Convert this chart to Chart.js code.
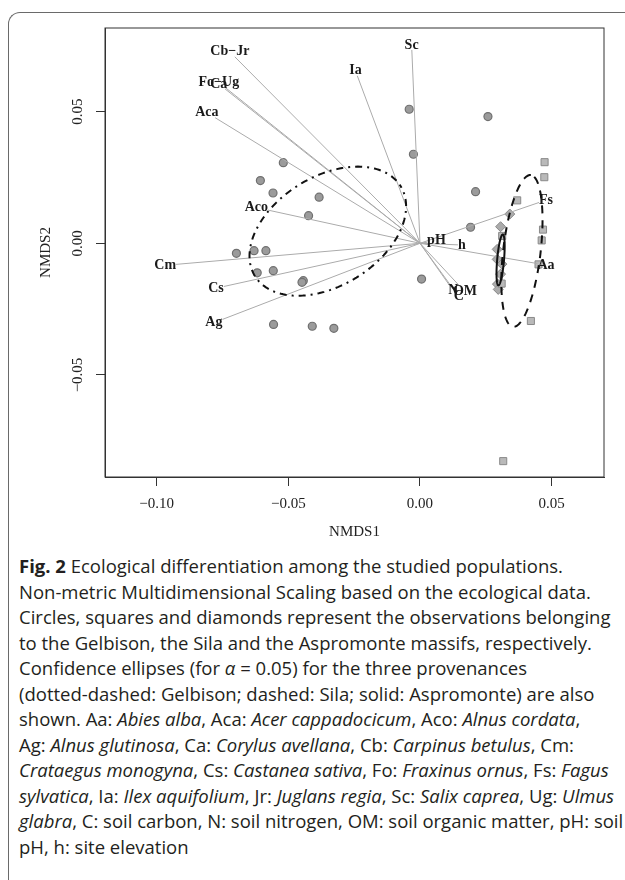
<!DOCTYPE html>
<html>

<head>
  <meta charset="UTF-8" />
  <title>NMDS of ecological data</title>
  <script src="https://cdn.jsdelivr.net/npm/chart.js@4.4.1/dist/chart.umd.min.js"></script>
  <style>
    body { margin: 0; width: 625px; height: 880px; overflow: hidden; background: #fff; position: relative; }
    #frame { position: absolute; left: 8px; top: 12px; width: 800px; height: 1000px;
      border-top: 1.5px solid #6a6a6a; border-left: 1.5px solid #6a6a6a; border-top-left-radius: 12px; }
    #chart { position: absolute; left: 0; top: 0; }
    #caption { position: absolute; left: 19px; top: 553px; font: 18.5px "Open Sans", sans-serif;
      line-height: 25.5px; color: #231f20; white-space: nowrap; }
  </style>
</head>

<body>
  <div id="frame"></div>
  <canvas id="chart" width="625" height="545"></canvas>
  <div id="caption">
    <div><b>Fig. 2</b> Ecological differentiation among the studied populations.</div>
    <div>Non-metric Multidimensional Scaling based on the ecological data.</div>
    <div>Circles, squares and diamonds represent the observations belonging</div>
    <div>to the Gelbison, the Sila and the Aspromonte massifs, respectively.</div>
    <div>Confidence ellipses (for <i>α</i> = 0.05) for the three provenances</div>
    <div>(dotted-dashed: Gelbison; dashed: Sila; solid: Aspromonte) are also</div>
    <div>shown. Aa: <i>Abies alba</i>, Aca: <i>Acer cappadocicum</i>, Aco: <i>Alnus cordata</i>,</div>
    <div>Ag: <i>Alnus glutinosa</i>, Ca: <i>Corylus avellana</i>, Cb: <i>Carpinus betulus</i>, Cm:</div>
    <div><i>Crataegus monogyna</i>, Cs: <i>Castanea sativa</i>, Fo: <i>Fraxinus ornus</i>, Fs: <i>Fagus</i></div>
    <div><i>sylvatica</i>, Ia: <i>Ilex aquifolium</i>, Jr: <i>Juglans regia</i>, Sc: <i>Salix caprea</i>, Ug: <i>Ulmus</i></div>
    <div><i>glabra</i>, C: soil carbon, N: soil nitrogen, OM: soil organic matter, pH: soil</div>
    <div>pH, h: site elevation</div>
  </div>
  <script>
    // observations (NMDS1, NMDS2)
    const gelX = [-0.0041, 0.0258, -0.0025, -0.0519, -0.0606, -0.0558, -0.0383, 0.0211, -0.0423, 0.0192, -0.0697,
      -0.0630, -0.0585, -0.0618, -0.0557, -0.0443, -0.0448, 0.0006, -0.0556, -0.0409, -0.0327];
    const gelY = [0.0509, 0.0481, 0.0338, 0.0306, 0.0238, 0.0191, 0.0175, 0.0196, 0.0105, 0.0061, -0.0038,
      -0.0028, -0.0028, -0.0112, -0.0104, -0.0142, -0.0148, -0.0136, -0.0308, -0.0315, -0.0323];
    const silaX = [0.0473, 0.0472, 0.0369, 0.0467, 0.0462, 0.0450, 0.0312, 0.0310, 0.0421, 0.0316];
    const silaY = [0.0308, 0.0251, 0.0163, 0.0052, 0.0011, -0.0080, 0.0028, -0.0153, -0.0295, -0.0827];
    const aspX = [0.0341, 0.0306, 0.0293, 0.0293, 0.0311, 0.0306, 0.0294, 0.0297];
    const aspY = [0.0111, 0.0063, -0.0023, -0.0061, -0.0079, -0.0117, -0.0155, -0.0175];

    // fitted vectors (arrow heads)
    const vecNames = ['Cb\u2212Jr', 'Fo\u2212Ug', 'Ca', 'Aca', 'Aco', 'Cm', 'Cs', 'Ag', 'Sc', 'Ia',
      'pH', 'h', 'Fs', 'Aa', 'N', 'OM', 'C'];
    const vecX = [-0.0703, -0.0740, -0.0740, -0.0778, -0.0577, -0.0926, -0.0745, -0.0750, -0.0031, -0.0238,
      0.0027, 0.0144, 0.0452, 0.0446, 0.0113, 0.0153, 0.0134];
    const vecY = [0.0708, 0.0592, 0.0586, 0.0477, 0.0126, -0.0080, -0.0164, -0.0289, 0.0734, 0.0636,
      0.0004, -0.0006, 0.0155, -0.0077, -0.0161, -0.0165, -0.0184];

    // confidence ellipses: centre, semi-axes, angle of major axis (degrees)
    const ellNames = ['Gelbison', 'Sila', 'Aspromonte'];
    const ellCX = [-0.0350, 0.0387, 0.0306];
    const ellCY = [0.0046, -0.0029, -0.0063];
    const ellA = [0.0325, 0.0290, 0.0097];
    const ellB = [0.0207, 0.0071, 0.0013];
    const ellAngle = [31.6, 83.3, 85];

    const xTickValues = [-0.10, -0.05, 0.00, 0.05];
    const xTickLabels = ['\u22120.10', '\u22120.05', '0.00', '0.05'];
    const yTickValues = [-0.05, 0.00, 0.05];
    const yTickLabels = ['\u22120.05', '0.00', '0.05'];

    const serif = 'Liberation Serif';
    const ellDash = [[2, 5, 7, 5], [8, 7], []];

    const toPts = (xs, ys) => xs.map((v, i) => ({ x: v, y: ys[i] }));

    const overlay = {
      id: 'overlay',
      afterDatasetsDraw(chart) {
        const { ctx, chartArea: a, scales: { x, y } } = chart;
        const ox = x.getPixelForValue(0), oy = y.getPixelForValue(0);
        ctx.save();
        ctx.beginPath();
        ctx.rect(a.left, a.top, a.right - a.left, a.bottom - a.top);
        ctx.clip();

        // arrows
        ctx.strokeStyle = '#ababab';
        ctx.lineWidth = 1;
        vecNames.forEach((n, i) => {
          ctx.beginPath();
          ctx.moveTo(ox, oy);
          ctx.lineTo(x.getPixelForValue(vecX[i]), y.getPixelForValue(vecY[i]));
          ctx.stroke();
        });

        // labels just beyond the arrow heads
        ctx.font = 'bold 14px "' + serif + '"';
        ctx.fillStyle = '#1a1a1a';
        ctx.textAlign = 'center';
        ctx.textBaseline = 'middle';
        vecNames.forEach((n, i) => {
          const tx = x.getPixelForValue(vecX[i]), ty = y.getPixelForValue(vecY[i]);
          const dx = tx - ox, dy = ty - oy, len = Math.hypot(dx, dy) || 1;
          const ux = dx / len, uy = dy / len;
          const hw = ctx.measureText(n).width / 2, hh = 5;
          const d = Math.min(Math.abs(ux) > 1e-6 ? hw / Math.abs(ux) : 1e9,
            Math.abs(uy) > 1e-6 ? hh / Math.abs(uy) : 1e9);
          ctx.fillText(n, tx + ux * d, ty + uy * d);
        });

        // ellipses
        ctx.strokeStyle = '#111';
        ctx.lineWidth = 2;
        ellNames.forEach((n, k) => {
          const th = ellAngle[k] * Math.PI / 180;
          ctx.setLineDash(ellDash[k]);
          ctx.beginPath();
          for (let s = 0; s <= 180; s++) {
            const t = s / 180 * 2 * Math.PI;
            const ex = ellCX[k] + ellA[k] * Math.cos(t) * Math.cos(th) - ellB[k] * Math.sin(t) * Math.sin(th);
            const ey = ellCY[k] + ellA[k] * Math.cos(t) * Math.sin(th) + ellB[k] * Math.sin(t) * Math.cos(th);
            const px = x.getPixelForValue(ex), py = y.getPixelForValue(ey);
            if (s === 0) ctx.moveTo(px, py); else ctx.lineTo(px, py);
          }
          ctx.closePath();
          ctx.stroke();
        });
        ctx.restore();

        // plot box
        ctx.save();
        ctx.strokeStyle = '#333';
        ctx.lineWidth = 1;
        ctx.strokeRect(a.left, a.top, a.right - a.left, a.bottom - a.top);
        ctx.restore();
      }
    };

    const tickFont = { family: serif, size: 15 };
    const axisLine = {
      grid: { drawOnChartArea: false, drawTicks: true, tickLength: 9, color: '#333', tickColor: '#333' },
      border: { display: true, color: '#333', width: 1 }
    };

    new Chart(document.getElementById('chart'), {
      type: 'scatter',
      data: {
        datasets: [
          { label: 'Gelbison', data: toPts(gelX, gelY), pointStyle: 'circle', pointRadius: 4,
            backgroundColor: '#9b9b9b', borderColor: '#707070', borderWidth: 1.2 },
          { label: 'Sila', data: toPts(silaX, silaY), pointStyle: 'rect', pointRadius: 5,
            backgroundColor: '#b9b9b9', borderColor: '#8a8a8a', borderWidth: 1 },
          { label: 'Aspromonte', data: toPts(aspX, aspY), pointStyle: 'rectRot', pointRadius: 5,
            backgroundColor: '#ababab', borderColor: '#8a8a8a', borderWidth: 1 }
        ]
      },
      options: {
        responsive: false,
        animation: false,
        devicePixelRatio: 1,
        events: [],
        layout: { padding: { left: 0, right: 21, top: 28, bottom: 4 } },
        plugins: { legend: { display: false }, tooltip: { enabled: false } },
        scales: {
          x: {
            type: 'linear', position: 'bottom', min: -0.11959, max: 0.06986,
            afterBuildTicks: s => { s.ticks = xTickValues.map(v => ({ value: v })); },
            afterFit: s => { s.height = 64; },
            ticks: { callback: (v, i) => xTickLabels[i], font: tickFont, color: '#222', padding: 9,
              maxRotation: 0, autoSkip: false },
            title: { display: true, text: 'NMDS1', font: tickFont, color: '#222', padding: 0 },
            ...axisLine
          },
          y: {
            type: 'linear', position: 'left', min: -0.08873, max: 0.08174,
            afterBuildTicks: s => { s.ticks = yTickValues.map(v => ({ value: v })); },
            afterFit: s => { s.width = 105; },
            ticks: { callback: (v, i) => yTickLabels[i], font: tickFont, color: '#222', padding: 1,
              minRotation: 90, maxRotation: 90, crossAlign: 'center', autoSkip: false },
            title: { display: true, text: 'NMDS2', font: tickFont, color: '#222', padding: { top: 37, bottom: 0 } },
            ...axisLine
          }
        }
      },
      plugins: [overlay]
    });
  </script>
</body>

</html>
